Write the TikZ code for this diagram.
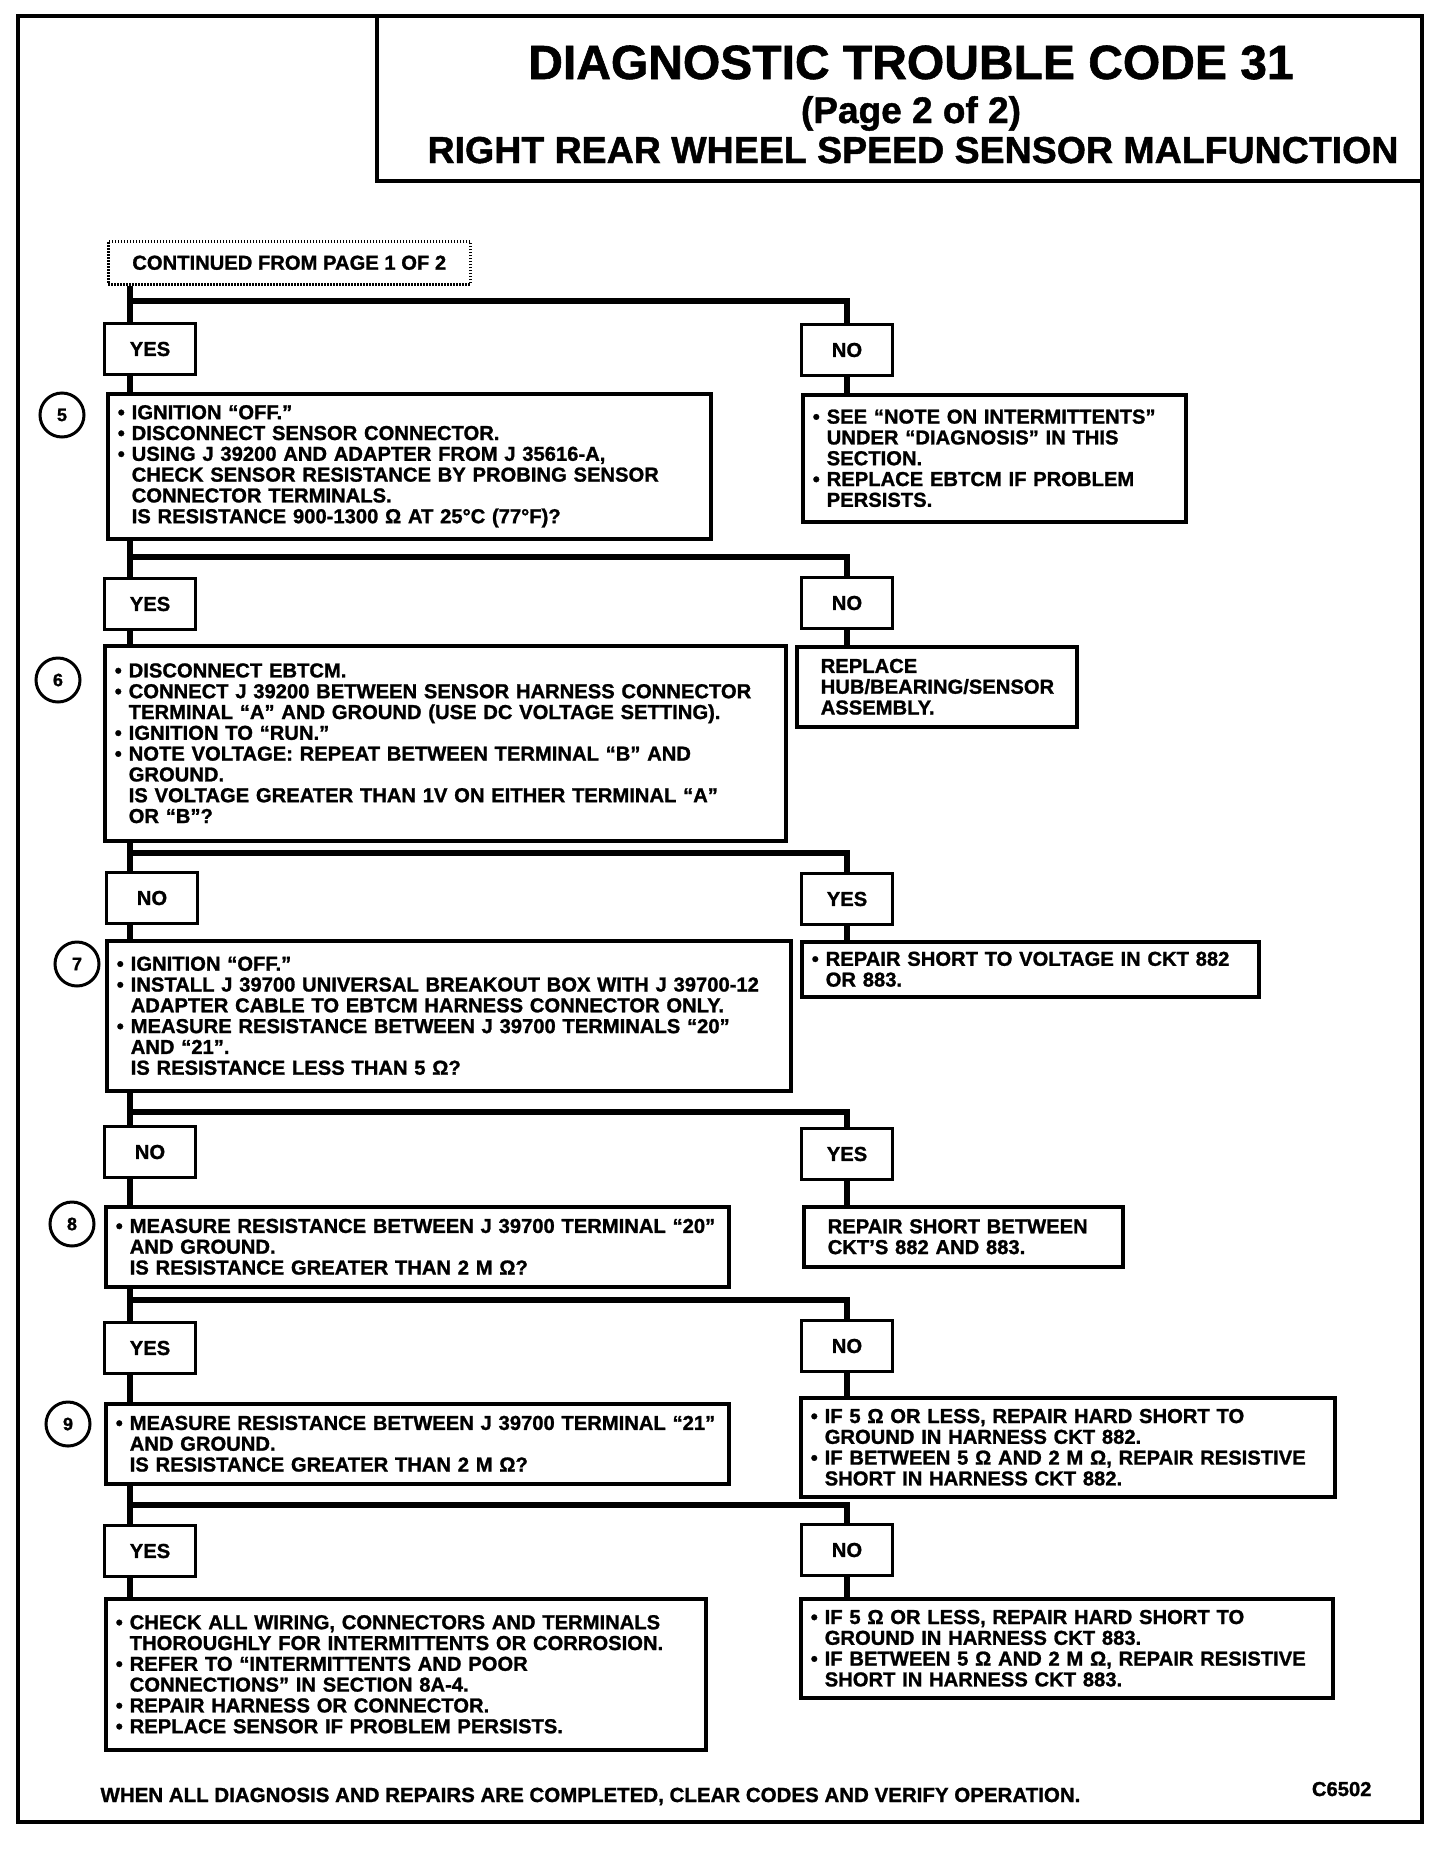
\documentclass[tikz,border=0pt]{standalone}
\usepackage{fontspec}
\setmainfont{Liberation Sans}[BoldFeatures={FakeBold=1.2}]
\newcommand\chu{\fontsize{20.2}{20.8}\selectfont\bfseries}
\newcommand\bul{\makebox[14pt][l]{•}}
\newcommand\ind{\hspace*{14pt}}
\begin{document}
\begin{tikzpicture}[x=1pt,y=-1pt,
    hop/.style={draw,line width=3.5pt,anchor=north west,align=left,inner xsep=10pt,inner ysep=0pt,font=\chu},
    nhan/.style={draw,line width=3.5pt,minimum width=91pt,minimum height=51pt,inner sep=0pt,font=\chu},
    so/.style={draw,circle,line width=3pt,minimum size=44pt,inner sep=0pt,font=\fontsize{18}{18}\selectfont\bfseries},
    noi/.style={line width=6pt,line join=miter}]
    \useasboundingbox (0,0) rectangle (1456,1850);
    \draw[line width=4pt] (18,16) rectangle (1422,1822);
    \draw[line width=4pt] (377,16) |- (1422,181); % <<< khung tiêu đề
    \path
    (911,79) node[anchor=base,font=\fontsize{48}{50}\selectfont\bfseries] (t1) {DIAGNOSTIC TROUBLE CODE 31}
    (911,123) node[anchor=base,font=\fontsize{37}{40}\selectfont\bfseries] (t2) {(Page 2 of 2)}
    (913,163) node[anchor=base,font=\fontsize{37.5}{40}\selectfont\bfseries] (t3) {RIGHT REAR WHEEL SPEED SENSOR MALFUNCTION};
    \node[draw,dash pattern=on 1.5pt off 1.5pt,line width=2.5pt,anchor=north west,minimum width=362pt,minimum height=43pt,font=\chu] (cont) at (107,240) {CONTINUED FROM PAGE 1 OF 2};
    \coordinate (t) at (130,0);
    \coordinate (h1) at (0,301);
    \coordinate (h2) at (0,557);
    \coordinate (h3) at (0,853);
    \coordinate (h4) at (0,1112);
    \coordinate (h5) at (0,1300);
    \coordinate (h6) at (0,1505);
    % <<< bước 5
    \node[nhan] (y1) at (150,349) {YES};
    \node[nhan] (n1) at (847,350) {NO};
    \node[so] (c5) at (62,415) {5};
    \node[hop,text width=583pt,minimum height=145pt] (b5) at (106,392)
    {\bul IGNITION “OFF.”\\
     \bul DISCONNECT SENSOR CONNECTOR.\\
     \bul USING J 39200 AND ADAPTER FROM J 35616-A,\\
     \ind CHECK SENSOR RESISTANCE BY PROBING SENSOR\\
     \ind CONNECTOR TERMINALS.\\
     \ind IS RESISTANCE 900-1300 Ω AT 25°C (77°F)?};
    \node[hop,text width=363pt,minimum height=127pt] (r1) at (801,393)
    {\bul SEE “NOTE ON INTERMITTENTS”\\
     \ind UNDER “DIAGNOSIS” IN THIS\\
     \ind SECTION.\\
     \bul REPLACE EBTCM IF PROBLEM\\
     \ind PERSISTS.};
    % <<< bước 6
    \node[nhan] (y2) at (150,604) {YES};
    \node[nhan] (n2) at (847,603) {NO};
    \node[so] (c6) at (58,680) {6};
    \node[hop,text width=661pt,minimum height=195pt] (b6) at (103,644)
    {\bul DISCONNECT EBTCM.\\
     \bul CONNECT J 39200 BETWEEN SENSOR HARNESS CONNECTOR\\
     \ind TERMINAL “A” AND GROUND (USE DC VOLTAGE SETTING).\\
     \bul IGNITION TO “RUN.”\\
     \bul NOTE VOLTAGE: REPEAT BETWEEN TERMINAL “B” AND\\
     \ind GROUND.\\
     \ind IS VOLTAGE GREATER THAN 1V ON EITHER TERMINAL “A”\\
     \ind OR “B”?};
    \node[hop,text width=260pt,minimum height=80pt] (r2) at (795,645)
    {\ind REPLACE\\
     \ind HUB/BEARING/SENSOR\\
     \ind ASSEMBLY.};
    % <<< bước 7
    \node[nhan] (n3) at (152,898) {NO};
    \node[nhan] (y3) at (847,899) {YES};
    \node[so] (c7) at (77,964) {7};
    \node[hop,text width=664pt,minimum height=150pt] (b7) at (105,939)
    {\bul IGNITION “OFF.”\\
     \bul INSTALL J 39700 UNIVERSAL BREAKOUT BOX WITH J 39700-12\\
     \ind ADAPTER CABLE TO EBTCM HARNESS CONNECTOR ONLY.\\
     \bul MEASURE RESISTANCE BETWEEN J 39700 TERMINALS “20”\\
     \ind AND “21”.\\
     \ind IS RESISTANCE LESS THAN 5 Ω?};
    \node[hop,text width=437pt,minimum height=55pt] (r3) at (800,940)
    {\bul REPAIR SHORT TO VOLTAGE IN CKT 882\\
     \ind OR 883.};
    % <<< bước 8
    \node[nhan] (n4) at (150,1152) {NO};
    \node[nhan] (y4) at (847,1154) {YES};
    \node[so] (c8) at (72,1224) {8};
    \node[hop,text width=603pt,minimum height=80pt] (b8) at (104,1205)
    {\bul MEASURE RESISTANCE BETWEEN J 39700 TERMINAL “20”\\
     \ind AND GROUND.\\
     \ind IS RESISTANCE GREATER THAN 2 M Ω?};
    \node[hop,text width=299pt,minimum height=60pt] (r4) at (802,1205)
    {\ind REPAIR SHORT BETWEEN\\
     \ind CKT’S 882 AND 883.};
    % <<< bước 9
    \node[nhan] (y5) at (150,1348) {YES};
    \node[nhan] (n5) at (847,1346) {NO};
    \node[so] (c9) at (68,1424) {9};
    \node[hop,text width=603pt,minimum height=80pt] (b9) at (104,1402)
    {\bul MEASURE RESISTANCE BETWEEN J 39700 TERMINAL “21”\\
     \ind AND GROUND.\\
     \ind IS RESISTANCE GREATER THAN 2 M Ω?};
    \node[hop,text width=514pt,minimum height=99pt] (r5) at (799,1396)
    {\bul IF 5 Ω OR LESS, REPAIR HARD SHORT TO\\
     \ind GROUND IN HARNESS CKT 882.\\
     \bul IF BETWEEN 5 Ω AND 2 M Ω, REPAIR RESISTIVE\\
     \ind SHORT IN HARNESS CKT 882.};
    % <<< cuối
    \node[nhan] (y6) at (150,1551) {YES};
    \node[nhan] (n6) at (847,1550) {NO};
    \node[hop,text width=580pt,minimum height=151pt] (bf) at (104,1597)
    {\bul CHECK ALL WIRING, CONNECTORS AND TERMINALS\\
     \ind THOROUGHLY FOR INTERMITTENTS OR CORROSION.\\
     \bul REFER TO “INTERMITTENTS AND POOR\\
     \ind CONNECTIONS” IN SECTION 8A-4.\\
     \bul REPAIR HARNESS OR CONNECTOR.\\
     \bul REPLACE SENSOR IF PROBLEM PERSISTS.};
    \node[hop,text width=512pt,minimum height=99pt] (r6) at (799,1597)
    {\bul IF 5 Ω OR LESS, REPAIR HARD SHORT TO\\
     \ind GROUND IN HARNESS CKT 883.\\
     \bul IF BETWEEN 5 Ω AND 2 M Ω, REPAIR RESISTIVE\\
     \ind SHORT IN HARNESS CKT 883.};
    \node[anchor=base west,font=\fontsize{20.5}{22}\selectfont\bfseries] (foot) at (97,1802) {WHEN ALL DIAGNOSIS AND REPAIRS ARE COMPLETED, CLEAR CODES AND VERIFY OPERATION.};
    \node[anchor=base east,font=\chu] (code) at (1375,1796) {C6502};
    % <<< đường nối
    \draw[noi] (cont.south-|t) -- (y1.north-|t);
    \draw[noi] (y1.south-|t) -- (b5.north-|t);
    \draw[noi] (cont.south-|t) |- (h1-|n1.north) -- (n1.north);
    \draw[noi] (n1.south) -- (n1.south|-r1.north);
    \draw[noi] (b5.south-|t) -- (y2.north-|t);
    \draw[noi] (y2.south-|t) -- (b6.north-|t);
    \draw[noi] (b5.south-|t) |- (h2-|n2.north) -- (n2.north);
    \draw[noi] (n2.south) -- (n2.south|-r2.north);
    \draw[noi] (b6.south-|t) -- (n3.north-|t);
    \draw[noi] (n3.south-|t) -- (b7.north-|t);
    \draw[noi] (b6.south-|t) |- (h3-|y3.north) -- (y3.north);
    \draw[noi] (y3.south) -- (y3.south|-r3.north);
    \draw[noi] (b7.south-|t) -- (n4.north-|t);
    \draw[noi] (n4.south-|t) -- (b8.north-|t);
    \draw[noi] (b7.south-|t) |- (h4-|y4.north) -- (y4.north);
    \draw[noi] (y4.south) -- (y4.south|-r4.north);
    \draw[noi] (b8.south-|t) -- (y5.north-|t);
    \draw[noi] (y5.south-|t) -- (b9.north-|t);
    \draw[noi] (b8.south-|t) |- (h5-|n5.north) -- (n5.north);
    \draw[noi] (n5.south) -- (n5.south|-r5.north);
    \draw[noi] (b9.south-|t) -- (y6.north-|t);
    \draw[noi] (y6.south-|t) -- (bf.north-|t);
    \draw[noi] (b9.south-|t) |- (h6-|n6.north) -- (n6.north);
    \draw[noi] (n6.south) -- (n6.south|-r6.north);
\end{tikzpicture}
\end{document}
